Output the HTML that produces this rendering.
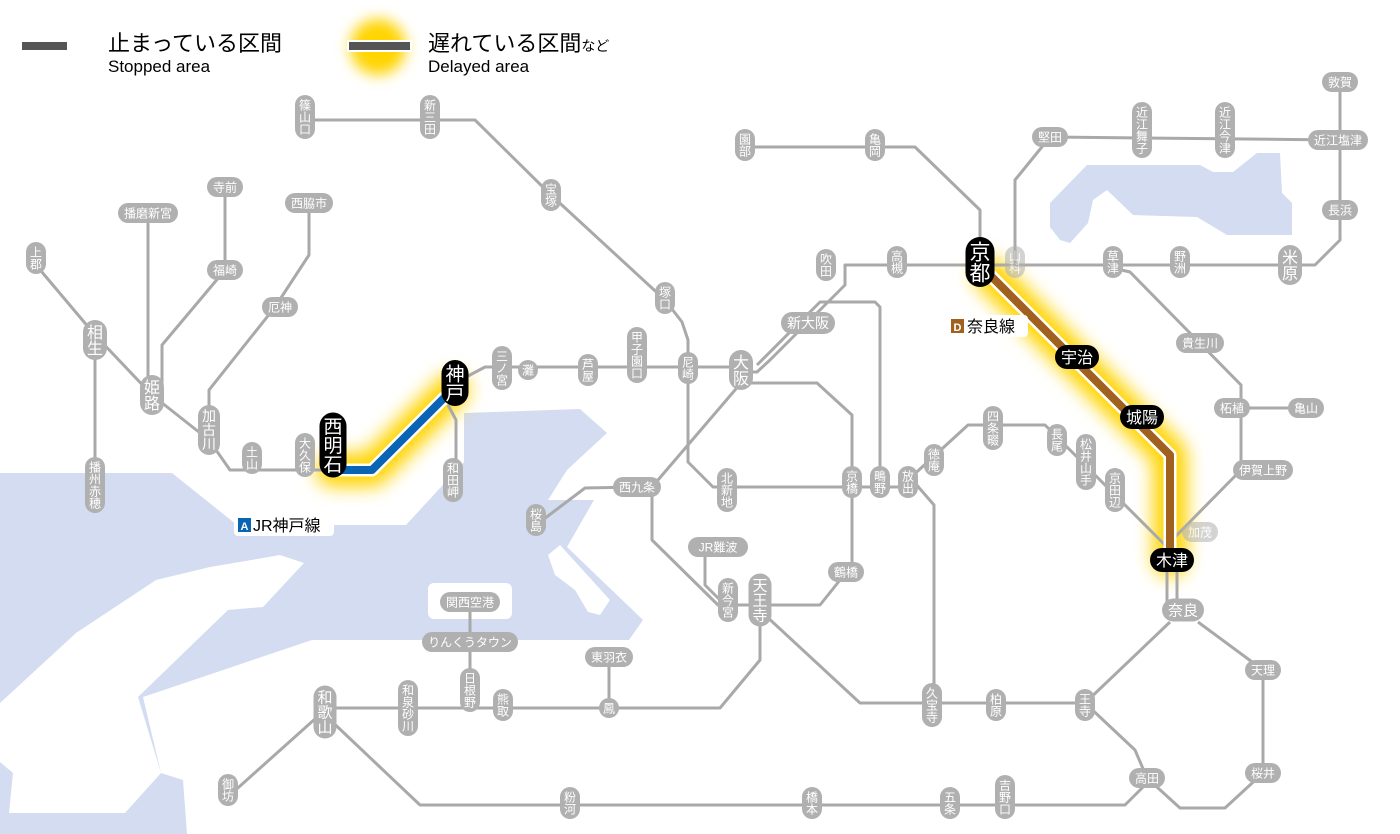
<!DOCTYPE html>
<html><head><meta charset="utf-8">
<style>
html,body{margin:0;padding:0;background:#fff;}
svg{display:block;}
text{font-family:"Liberation Sans","Noto Sans CJK JP",sans-serif;}
</style></head>
<body>
<svg id="m" width="1400" height="834" viewBox="0 0 1400 834" xmlns="http://www.w3.org/2000/svg">
<defs>
<filter id="blur" x="-50%" y="-50%" width="200%" height="200%"><feGaussianBlur stdDeviation="9"/></filter>
<filter id="blur2" x="-50%" y="-50%" width="200%" height="200%"><feGaussianBlur stdDeviation="7"/></filter>
</defs>
<!-- sea -->
<g fill="#d3dcf0">
<polygon points="0,473 172,473 237,525 406,525 464,462 464,413 580,409 607,433 567,470 548,500 594,500 567,547 643,620 629,640 312,640 143,697 161,773 183,780 187,834 0,834"/>
<polygon points="1050,203 1087,165 1200,165 1213,172 1233,172 1257,153 1280,153 1282,193 1292,203 1292,235 1227,235 1197,217 1133,215 1107,190 1093,200 1088,223 1070,243 1060,240 1050,227"/>
</g>
<g fill="#fff">
<polygon points="280,555 304,563 263,607 228,610 138,697 161,773 125,813 9,813 13,773 0,762 0,703 76,633 156,580 210,567 263,558"/>
<rect x="428" y="583" width="84" height="36" rx="6"/>
<polygon points="548,555 560,545 610,600 600,615 588,612 575,590 555,575"/>
</g>
<!-- glows -->
<g fill="none" stroke-linecap="round" stroke-linejoin="round">
<polyline points="333,470 372,470 452,390" stroke="#ffd400" stroke-width="34" filter="url(#blur)"/>
<polyline points="990,275 1170,455 1170,560" stroke="#ffd400" stroke-width="34" filter="url(#blur)"/>
</g>
<circle cx="378" cy="47" r="28" fill="#ffd400" filter="url(#blur2)"/>
<!-- gray lines -->
<g id="lines" fill="none" stroke="#a9a9a9" stroke-width="3" stroke-linejoin="round">
<polyline points="36,265 95,335 152,395 209,440 230,470 335,470"/>
<polyline points="95,340 95,490"/>
<polyline points="148,213 148,395"/>
<polyline points="225,187 225,270 162,345 162,395"/>
<polyline points="309,203 309,255 275,307 209,390 209,440"/>
<polyline points="455,383 485,367 741,367"/>
<polyline points="448,405 456,420 456,492"/>
<polyline points="305,120 475,120 551,195 665,300 682,322 688,340 688,462 713,487 908,487"/>
<polyline points="741,372 757,372 770,360 845,285 845,265 980,265"/>
<polyline points="757,365 820,302 875,302 880,307 880,487"/>
<polyline points="741,383 817,383 852,415 852,565 820,605 718,605 652,540 652,487 741,383"/>
<polyline points="637,487 585,488 536,525"/>
<polyline points="705,547 705,585 725,605"/>
<polyline points="760,600 760,660 720,708 325,708"/>
<polyline points="609,657 609,708"/>
<polyline points="470,602 470,700"/>
<polyline points="325,710 230,795"/>
<polyline points="325,715 420,805 1125,805 1145,785 1147,778"/>
<polyline points="765,615 860,703 1085,703"/>
<polyline points="908,475 934,505 934,703"/>
<polyline points="908,480 968,425 1045,425 1165,545"/>
<polyline points="745,147 915,147 980,210 980,265"/>
<polyline points="980,265 1315,265 1340,240 1340,82"/>
<polyline points="1015,265 1015,180 1050,137 1340,140"/>
<polyline points="1113,268 1130,272 1241,385 1241,470 1172,540"/>
<polyline points="1232,408 1306,408"/>
<polyline points="1167,560 1167,608"/><polyline points="1177,560 1177,608"/>
<polyline points="1170,622 1085,703"/>
<polyline points="1198,622 1263,670 1263,773 1225,808 1180,808 1147,778"/>
<polyline points="1085,703 1135,750 1147,778"/>
</g>
<!-- affected lines -->
<g fill="none" stroke-linejoin="round">
<polyline points="333,470 372,470 452,390" stroke="#fff" stroke-width="13"/>
<polyline points="333,470 372,470 452,390" stroke="#0a64b4" stroke-width="8"/>
<polyline points="990,275 1170,455 1170,560" stroke="#fff" stroke-width="13"/>
<polyline points="990,275 1170,455 1170,560" stroke="#a0601e" stroke-width="8"/>
</g>
<g id="st"></g>
<!-- legend -->
<rect x="22" y="42" width="45" height="8" fill="#555"/>
<text x="108" y="51" font-size="22" fill="#000">止まっている区間</text>
<text x="108" y="72" font-size="17" fill="#000">Stopped area</text>
<rect x="348" y="41" width="63" height="10" fill="#555" stroke="#fff" stroke-width="2"/>
<text x="428" y="51" font-size="22" fill="#000">遅れている区間<tspan font-size="14">など</tspan></text>
<text x="428" y="72" font-size="17" fill="#000">Delayed area</text>
<!-- line labels -->
<rect x="234" y="514" width="100" height="22" rx="4" fill="#fff"/>
<rect x="238" y="518" width="13" height="14" fill="#0a64b4"/>
<text x="244.5" y="530" font-size="11" fill="#fff" text-anchor="middle" font-weight="bold">A</text>
<text x="253" y="531" font-size="16" fill="#000">JR神戸線</text>
<rect x="948" y="315" width="80" height="22" rx="4" fill="#fff"/>
<rect x="951" y="319" width="13" height="14" fill="#a0601e"/>
<text x="957.5" y="331" font-size="11" fill="#fff" text-anchor="middle" font-weight="bold">D</text>
<text x="967" y="332" font-size="16" fill="#000">奈良線</text>
</svg>
<script>
var NS="http://www.w3.org/2000/svg",g=document.getElementById("st");
function el(t,a,p){var e=document.createElementNS(NS,t);for(var k in a)e.setAttribute(k,a[k]);(p||g).appendChild(e);return e;}
function st(x,y,s,v,fs,black,op){
  fs=fs||12;var ch=Array.from(s),n=ch.length,w,h;
  var fill=black?"#000":"#b0b0b0";
  var grp=el("g",op?{opacity:op}:{});
  if(v){w=fs+8;h=n*fs+8;
    el("rect",{x:x-w/2,y:y-h/2,width:w,height:h,rx:w/2,fill:fill},grp);
    ch.forEach(function(c,i){var t=el("text",{x:x,y:y-h/2+4+fs*(i+0.87),"font-size":fs,fill:"#fff","text-anchor":"middle"},grp);t.textContent=c;});
  }else{w=n*fs+12;h=fs+8;
    el("rect",{x:x-w/2,y:y-h/2,width:w,height:h,rx:h/2,fill:fill},grp);
    var t=el("text",{x:x,y:y+fs*0.37,"font-size":fs,fill:"#fff","text-anchor":"middle"},grp);t.textContent=s;}
}
var V=1,H=0;
[[36,258,"上郡",V],[95,340,"相生",V,16],[152,395,"姫路",V,16],[209,430,"加古川",V,14],[95,485,"播州赤穂",V],
[148,213,"播磨新宮",H],[225,187,"寺前",H],[225,270,"福崎",H],[309,203,"西脇市",H],[280,307,"厄神",H],
[305,117,"篠山口",V],[430,117,"新三田",V],[551,195,"宝塚",V],[665,298,"塚口",V],[252,458,"土山",V],[305,455,"大久保",V],
[453,480,"和田岬",V],[502,368,"三ノ宮",V],[528,370,"灘",V],[588,370,"芦屋",V],[637,355,"甲子園口",V],[688,368,"尼崎",V],
[741,370,"大阪",V,16],[808,323,"新大阪",H,14],[826,265,"吹田",V],[897,262,"高槻",V],[745,145,"園部",V],[875,145,"亀岡",V],
[727,490,"北新地",V],[852,482,"京橋",V],[880,482,"鴫野",V],[908,482,"放出",V],[637,487,"西九条",H],[536,520,"桜島",V],
[718,547,"JR難波",H],[728,600,"新今宮",V],[760,600,"天王寺",V,15],[846,572,"鶴橋",H],[470,602,"関西空港",H],
[470,642,"りんくうタウン",H],[609,657,"東羽衣",H],[325,712,"和歌山",V,15],[408,708,"和泉砂川",V],[470,690,"日根野",V],
[503,705,"熊取",V],[609,708,"鳳",V],[228,790,"御坊",V],[570,803,"粉河",V],[812,803,"橋本",V],[950,803,"五条",V],
[1005,797,"吉野口",V],[1147,778,"高田",H],[1263,773,"桜井",H],[1263,670,"天理",H],[1183,610,"奈良",H,15],
[1085,705,"王寺",V],[996,705,"柏原",V],[932,705,"久宝寺",V],[934,460,"徳庵",V],[993,428,"四条畷",V],[1057,440,"長尾",V],
[1086,462,"松井山手",V],[1115,490,"京田辺",V],[1263,470,"伊賀上野",H],[1232,408,"柘植",H],[1306,408,"亀山",H],
[1200,343,"貴生川",H],[1113,262,"草津",V],[1180,262,"野洲",V],[1290,265,"米原",V,16],[1340,210,"長浜",H],
[1338,140,"近江塩津",H],[1340,82,"敦賀",H],[1225,130,"近江今津",V],[1142,130,"近江舞子",V],[1050,137,"堅田",H]
].forEach(function(a){st(a[0],a[1],a[2],a[3],a[4]);});
st(1200,532,"加茂",H,12,false,0.55);
st(1015,262,"山科",V,12,false,0.55);
st(333,445,"西明石",V,19,true);
st(455,383,"神戸",V,19,true);
st(980,262,"京都",V,21,true);
st(1077,357,"宇治",H,16,true);
st(1142,417,"城陽",H,16,true);
st(1172,560,"木津",H,16,true);
</script>
</body></html>
